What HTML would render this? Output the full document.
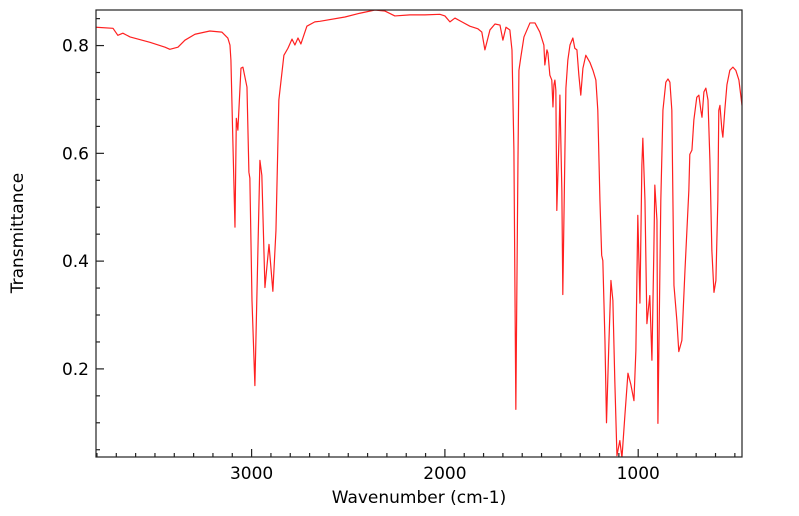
<!DOCTYPE html>
<html><head><meta charset="utf-8"><style>
html,body{margin:0;padding:0;background:#fff;}
svg{display:block;font-family:"DejaVu Sans","Liberation Sans",sans-serif;}
</style></head><body>
<svg id="chart" width="799" height="516" viewBox="0 0 799 516" xmlns="http://www.w3.org/2000/svg">
<defs><clipPath id="pc"><rect x="96" y="10" width="646" height="447"/></clipPath></defs>
<g id="axes"></g>
<path id="series" fill="none" stroke="#ff2020" stroke-width="1.2" stroke-linejoin="round" clip-path="url(#pc)"/>
<rect x="96" y="10" width="646" height="447" fill="none" stroke="#222" stroke-width="1.2"/>
<text x="419" y="503" font-size="17" text-anchor="middle">Wavenumber (cm-1)</text>
<text x="23" y="233" font-size="17" text-anchor="middle" transform="rotate(-90 23 233)">Transmittance</text>
</svg>
<script>
const wavenumbers=[3805,3717,3692,3666,3629,3526,3448,3423,3381,3345,3293,3216,3154,3123,3112,3107,3097,3086,3079,3071,3055,3045,3024,3014,3009,2998,2983,2957,2947,2931,2910,2890,2874,2859,2833,2812,2791,2776,2760,2745,2714,2673,2647,2517,2440,2362,2310,2259,2181,2104,2026,2000,1974,1948,1912,1871,1829,1809,1793,1767,1741,1715,1700,1684,1664,1653,1643,1633,1622,1617,1607,1591,1560,1534,1509,1488,1483,1472,1467,1457,1447,1441,1436,1431,1426,1421,1410,1405,1395,1390,1379,1374,1364,1353,1338,1328,1317,1307,1297,1286,1271,1250,1234,1219,1209,1198,1189,1183,1172,1164,1152,1141,1131,1121,1110,1095,1084,1069,1053,1038,1022,1012,1002,991,981,976,965,955,940,929,919,914,903,898,883,872,857,846,836,826,815,800,790,774,758,738,733,722,712,697,686,676,670,660,650,639,629,619,608,598,588,583,577,567,562,552,541,526,510,495,479,463];
const transmittance=[0.834,0.832,0.819,0.823,0.816,0.806,0.797,0.793,0.797,0.810,0.821,0.827,0.825,0.814,0.801,0.773,0.624,0.463,0.665,0.643,0.758,0.760,0.723,0.565,0.554,0.327,0.169,0.587,0.559,0.351,0.431,0.344,0.457,0.699,0.782,0.795,0.812,0.801,0.814,0.803,0.836,0.844,0.845,0.853,0.860,0.866,0.864,0.855,0.857,0.857,0.858,0.855,0.844,0.851,0.844,0.836,0.831,0.825,0.792,0.829,0.840,0.838,0.810,0.834,0.829,0.792,0.606,0.125,0.587,0.754,0.779,0.816,0.842,0.842,0.825,0.801,0.764,0.792,0.786,0.745,0.736,0.686,0.727,0.736,0.717,0.494,0.624,0.708,0.531,0.338,0.606,0.721,0.773,0.801,0.814,0.795,0.792,0.745,0.708,0.758,0.782,0.769,0.754,0.736,0.680,0.513,0.411,0.401,0.253,0.100,0.244,0.364,0.327,0.178,0.039,0.067,0.035,0.113,0.192,0.171,0.141,0.234,0.485,0.322,0.578,0.628,0.513,0.284,0.336,0.216,0.420,0.541,0.476,0.099,0.513,0.680,0.732,0.738,0.732,0.680,0.355,0.290,0.232,0.253,0.383,0.531,0.598,0.606,0.662,0.704,0.708,0.680,0.667,0.714,0.721,0.699,0.587,0.420,0.342,0.364,0.513,0.680,0.689,0.643,0.630,0.680,0.727,0.754,0.760,0.754,0.736,0.689];
const xTickLabels=[3000,2000,1000];
const yTickLabels=[0.2,0.4,0.6,0.8];

const X0=96,X1=742,Y0=457,Y1=10;
const WN_L=3805,WN_R=463,T_B=0.0365,T_T=0.866;
function sx(w){return X0+(WN_L-w)/(WN_L-WN_R)*(X1-X0);}
function sy(t){return Y0-(t-T_B)/(T_T-T_B)*(Y0-Y1);}
const NS='http://www.w3.org/2000/svg';
const axes=document.getElementById('axes');
function line(x1,y1,x2,y2,name){const l=document.createElementNS(NS,'line');
l.setAttribute('x1',x1);l.setAttribute('y1',y1);l.setAttribute('x2',x2);l.setAttribute('y2',y2);
l.setAttribute('stroke','#222');l.setAttribute('stroke-width','1.2');


axes.appendChild(l);}
function txt(x,y,s,anchor,name){const t=document.createElementNS(NS,'text');
t.setAttribute('x',x);t.setAttribute('y',y);t.setAttribute('font-size','17');t.setAttribute('text-anchor',anchor);t.textContent=s;


axes.appendChild(t);}
for(let w=3800;w>=WN_R;w-=100){const x=sx(w);const major=(w%1000===0);line(x,Y0,x,Y0-(major?8:4),major?'x-major-tick':'x-minor-tick');}
xTickLabels.forEach(w=>txt(sx(w),479,String(w),'middle','x-tick-label'));
for(let k=1;k<=17;k++){const t=k*0.05;if(t<T_B||t>T_T)continue;const y=sy(t);const major=(k%4===0);line(X0,y,X0+(major?8:4),y,major?'y-major-tick':'y-minor-tick');}
yTickLabels.forEach(t=>txt(89,sy(t)+6,t.toFixed(1),'end','y-tick-label'));
let d='';
wavenumbers.forEach((w,i)=>{d+=(i?'L':'M')+sx(w).toFixed(2)+','+sy(transmittance[i]).toFixed(2);});
document.getElementById('series').setAttribute('d',d);
</script>
</body></html>
